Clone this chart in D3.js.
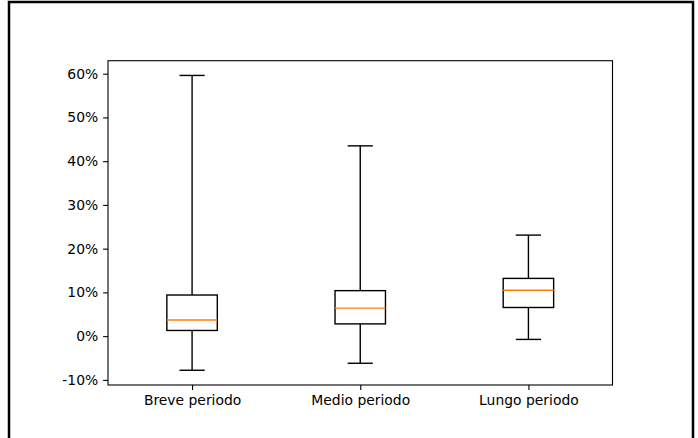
<!DOCTYPE html>
<html>
<head>
<meta charset="utf-8">
<script src="https://cdn.jsdelivr.net/npm/d3@7"></script>
<style>
html,body{margin:0;padding:0;background:#fff;}
svg{display:block;}
</style>
</head>
<body>
<svg id="chart" width="698" height="438"></svg>
<script>
const categories = ["Breve periodo", "Medio periodo", "Lungo periodo"];
const whiskerLow  = [-7.8, -6.2, -0.75];
const q1          = [1.3, 2.8, 6.55];
const median      = [3.7, 6.4, 10.5];
const q3          = [9.4, 10.4, 13.2];
const whiskerHigh = [59.6, 43.5, 23.1];
const yTicks = [-10, 0, 10, 20, 30, 40, 50, 60];

const svg = d3.select("#chart");
// outer frame
svg.append("path")
  .attr("d", "M9,438 L9,2 L693,2 L693,438")
  .attr("fill", "none").attr("stroke", "#000").attr("stroke-width", 2.5);

const L = 108, R = 612.5, T = 60.7, B = 385;
const x = d3.scaleLinear().domain([0.5, 3.5]).range([L, R]);
const lo = d3.min(whiskerLow), hi = d3.max(whiskerHigh), pad = (hi - lo) * 0.05;
const y = d3.scaleLinear().domain([lo - pad, hi + pad]).range([B, T]);

const font = "'DejaVu Sans', sans-serif";
const boxW = x(1.3) - x(1.0);
const capW = x(1.15) - x(1.0);

const data = categories.map((c, i) => ({c, i, lo: whiskerLow[i], q1: q1[i], med: median[i], q3: q3[i], hi: whiskerHigh[i]}));
const g = svg.append("g");
const bx = g.selectAll("g.box").data(data).join("g").attr("class", "box");
const cx = d => x(d.i + 1);
const lw = 1.4;
// whiskers
bx.append("line").attr("x1", cx).attr("x2", cx).attr("y1", d => y(d.q3)).attr("y2", d => y(d.hi)).attr("stroke", "#000").attr("stroke-width", lw);
bx.append("line").attr("x1", cx).attr("x2", cx).attr("y1", d => y(d.q1)).attr("y2", d => y(d.lo)).attr("stroke", "#000").attr("stroke-width", lw);
// caps
bx.append("line").attr("x1", d => cx(d) - capW/2).attr("x2", d => cx(d) + capW/2).attr("y1", d => y(d.hi)).attr("y2", d => y(d.hi)).attr("stroke", "#000").attr("stroke-width", lw);
bx.append("line").attr("x1", d => cx(d) - capW/2).attr("x2", d => cx(d) + capW/2).attr("y1", d => y(d.lo)).attr("y2", d => y(d.lo)).attr("stroke", "#000").attr("stroke-width", lw);
// box
bx.append("rect").attr("x", d => cx(d) - boxW/2).attr("width", boxW)
  .attr("y", d => y(d.q3)).attr("height", d => y(d.q1) - y(d.q3))
  .attr("fill", "none").attr("stroke", "#000").attr("stroke-width", lw);
// median
bx.append("line").attr("x1", d => cx(d) - boxW/2).attr("x2", d => cx(d) + boxW/2).attr("y1", d => y(d.med)).attr("y2", d => y(d.med)).attr("stroke", "#ff7f0e").attr("stroke-width", lw);

// axes
const yAxis = d3.axisLeft(y).tickValues(yTicks).tickFormat(d => d + "%").tickSize(4.9).tickPadding(4.9);
const ya = svg.append("g").attr("transform", `translate(${L},0)`).call(yAxis);
const xAxis = d3.axisBottom(x).tickValues([1, 2, 3]).tickFormat(d => categories[d - 1]).tickSize(4.9).tickPadding(4.9);
const xa = svg.append("g").attr("transform", `translate(0,${B})`).call(xAxis);
[ya, xa].forEach(a => {
  a.select(".domain").remove();
  a.selectAll(".tick line").attr("stroke", "#000").attr("stroke-width", 1.1);
  a.selectAll(".tick text").attr("fill", "#000").style("font-family", font).style("font-size", "13.9px");
});
// spines
svg.append("rect").attr("x", L).attr("y", T).attr("width", R - L).attr("height", B - T)
  .attr("fill", "none").attr("stroke", "#000").attr("stroke-width", 1.1);
</script>
</body>
</html>
